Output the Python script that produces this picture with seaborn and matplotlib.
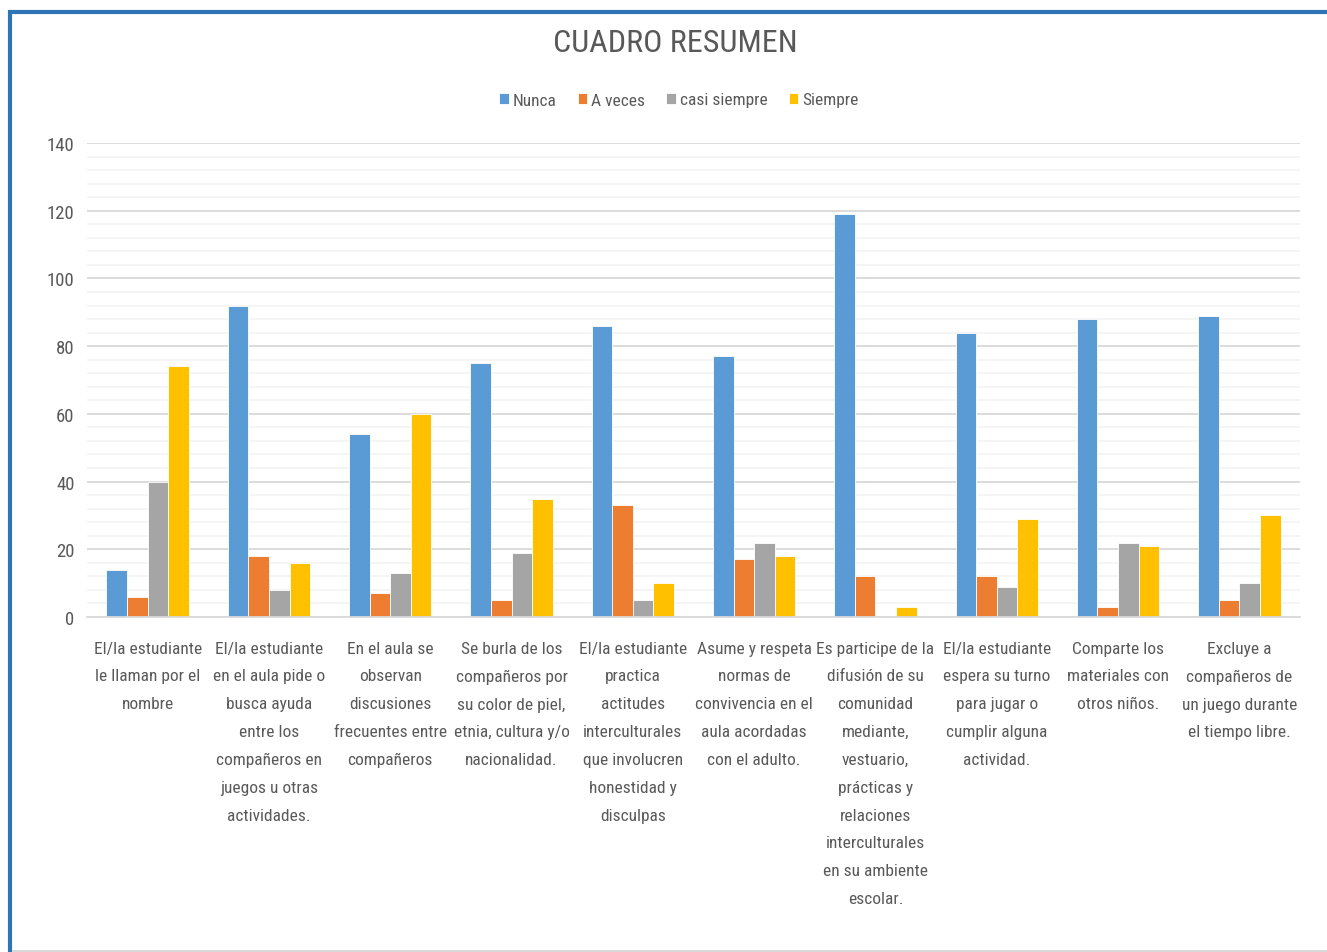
import matplotlib
matplotlib.use("Agg")
import matplotlib.pyplot as plt
from matplotlib import font_manager as fm
from matplotlib.patches import Rectangle
from matplotlib.ticker import MultipleLocator
import seaborn as sns
import pandas as pd

categories = [
    "El/la estudiante\nle llaman por el\nnombre",
    "El/la estudiante\nen el aula pide o\nbusca ayuda\nentre los\ncompañeros en\njuegos u otras\nactividades.",
    "En el aula se\nobservan\ndiscusiones\nfrecuentes entre\ncompañeros",
    "Se burla de los\ncompañeros por\nsu color de piel,\netnia, cultura y/o\nnacionalidad.",
    "El/la estudiante\npractica\nactitudes\ninterculturales\nque involucren\nhonestidad y\ndisculpas",
    "Asume y respeta\nnormas de\nconvivencia en el\naula acordadas\ncon el adulto.",
    "Es participe de la\ndifusión de su\ncomunidad\nmediante,\nvestuario,\nprácticas y\nrelaciones\ninterculturales\nen su ambiente\nescolar.",
    "El/la estudiante\nespera su turno\npara jugar o\ncumplir alguna\nactividad.",
    "Comparte los\nmateriales con\notros niños.",
    "Excluye a\ncompañeros de\nun juego durante\nel tiempo libre.",
]
series = ["Nunca", "A veces", "casi siempre", "Siempre"]
nunca = [14, 92, 54, 75, 86, 77, 119, 84, 88, 89]
a_veces = [6, 18, 7, 5, 33, 17, 12, 12, 3, 5]
casi_siempre = [40, 8, 13, 19, 5, 22, 0, 9, 22, 10]
siempre = [74, 16, 60, 35, 10, 18, 3, 29, 21, 30]
colors = ["#5B9BD5", "#ED7D31", "#A5A5A5", "#FFC000"]
title = "CUADRO RESUMEN"

values = [nunca, a_veces, casi_siempre, siempre]
rows = []
for s, vals in zip(series, values):
    for c, v in zip(categories, vals):
        rows.append({"cat": c, "serie": s, "valor": v})
df = pd.DataFrame(rows)

sns.set_theme(style="white")
names = {f.name for f in fm.fontManager.ttflist}
fam = "DejaVu Sans"
for cand in ["Liberation Sans Narrow", "Roboto Condensed", "Open Sans Condensed", "Roboto", "Liberation Sans"]:
    if cand in names:
        fam = cand
        break
plt.rcParams["font.family"] = [fam, "DejaVu Sans"]

fig = plt.figure(figsize=(13.27, 9.53), dpi=100)
ax = fig.add_axes([87 / 1327, 1 - 618 / 953, (1300 - 87) / 1327, (618 - 144) / 953])

sns.barplot(data=df, x="cat", y="valor", hue="serie", order=categories,
            hue_order=series, palette=colors, width=0.68, gap=0,
            edgecolor="white", linewidth=0.6, ax=ax, legend=True, saturation=1)

ax.set_ylim(0, 140)
ax.set_xlim(-0.5, len(categories) - 0.5)
ax.yaxis.set_major_locator(MultipleLocator(20))
ax.yaxis.set_minor_locator(MultipleLocator(4))
ax.grid(axis="y", which="major", color="#D9D9D9", linewidth=1.3)
ax.grid(axis="y", which="minor", color="#F2F2F2", linewidth=1.1)
ax.set_axisbelow(True)
for side in ["top", "right", "left"]:
    ax.spines[side].set_visible(False)
ax.spines["bottom"].set_color("#D9D9D9")
ax.spines["bottom"].set_linewidth(1.3)
ax.tick_params(axis="both", which="both", length=0)
ax.tick_params(axis="y", pad=9, labelsize=13.5, labelcolor="#595959")
ax.tick_params(axis="x", pad=17, labelsize=12.5, labelcolor="#595959")
ax.set_xlabel("")
ax.set_ylabel("")
for lab in ax.get_xticklabels():
    lab.set_linespacing(2.07)
    lab.set_verticalalignment("top")

leg = ax.legend(loc="center", bbox_to_anchor=(679 / 1327, 1 - 101 / 953),
                bbox_transform=fig.transFigure, ncol=4, frameon=False,
                fontsize=12.5, handlelength=0.55, handleheight=0.55,
                handletextpad=0.25, columnspacing=1.2, labelcolor="#595959")

fig.text(675 / 1327, 1 - 44 / 953, title, ha="center", va="center",
         fontsize=23, color="#595959")

# outer frame
fig.patches.append(Rectangle((10 / 1327, -0.01), 1.1, 1 - 13 / 953 + 0.01,
                             transform=fig.transFigure, fill=False,
                             edgecolor="#2E75B6", linewidth=3))
fig.patches.append(Rectangle((12 / 1327, 0), 1.0, 2 / 953,
                             transform=fig.transFigure, fill=True,
                             facecolor="#D9D9D9", edgecolor="none"))

fig.savefig("out.png", dpi=100)
